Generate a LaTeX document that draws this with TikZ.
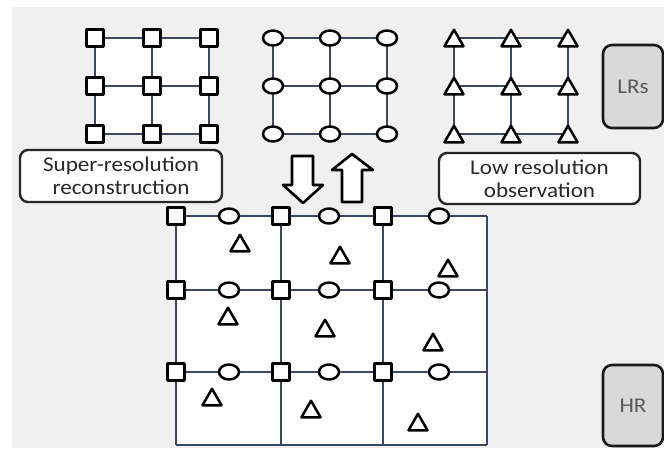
\documentclass[tikz,border=0pt]{standalone}
\usepackage{fontspec}
\setmainfont{Carlito}[FakeStretch=1.1]
\usepackage{xcolor}
\usepackage{tikz}
\usetikzlibrary{shapes.geometric}
\definecolor{cBack}{RGB}{240,240,240}
\definecolor{cGrid}{RGB}{58,72,100}
\definecolor{cTag}{RGB}{217,217,217}
\definecolor{cText}{RGB}{40,40,40}

\begin{document}
\begin{tikzpicture}[x=1pt,y=-1pt,line join=round,font=\fontsize{21}{23}\selectfont,
  gline/.style={cGrid,line width=2.4pt},
  sq/.style={draw=black,line width=2.6pt,fill=white,minimum size=17pt,inner sep=0pt},
  ci/.style={ellipse,draw=black,line width=2.5pt,fill=white,minimum width=20pt,minimum height=15pt,inner sep=0pt},
  tri/.style={regular polygon,regular polygon sides=3,draw=black,line width=2.5pt,fill=white,minimum size=22pt,inner sep=0pt,yshift=-2.75pt},
  capbox/.style={draw=black!85,line width=2.4pt,rounded corners=8pt,fill=white,text=cText,align=center},
  tagbox/.style={draw=black!90,line width=2.6pt,rounded corners=9pt,fill=cTag,text=black!65,minimum width=60pt},
  blockarrow/.style={draw=black,line width=2.6pt,fill=white}]
\useasboundingbox (0,0) rectangle (664,448);
\fill[cBack] (12,7) rectangle (664,448);
% low resolution grids
\foreach \ox/\mk in {95/sq,273/ci,454/tri}{
  \fill[white] (\ox,38) rectangle (\ox+114,134);
  \foreach \k in {0,1,2}{
    \draw[gline] (\ox,38+48*\k) -- (\ox+114,38+48*\k);
    \draw[gline] (\ox+57*\k,38) -- (\ox+57*\k,134);
  }
  \foreach \i in {0,1,2}
    \foreach \j in {0,1,2}
      \node[\mk] (\mk\i\j) at (\ox+57*\i,38+48*\j) {};
}
\node[tagbox,minimum height=83pt] (lrs) at (633,86.5) {LRs};
\node[capbox,minimum width=202pt,minimum height=52pt] (srr) at (121,176) {Super-resolution\\reconstruction};
\node[capbox,minimum width=201pt,minimum height=51pt] (lro) at (539.5,178.5) {Low resolution\\observation};
% arrows
\draw[blockarrow] (292,156) -- (313,156) -- (313,185) -- (323,185) -- (303,203) -- (283,185) -- (292,185) -- cycle;
\draw[blockarrow] (342,202) -- (362,202) -- (362,170) -- (373,170) -- (352,154) -- (332,170) -- (342,170) -- cycle;
% high resolution grid
\fill[white] (176,216) rectangle (487,445);
\foreach \y in {216,290,372,445} \draw[gline] (176,\y) -- (487,\y);
\foreach \x in {176,281,383,487} \draw[gline] (\x,216) -- (\x,445);
\foreach \y [count=\r] in {216,290,372}{
  \foreach \x [count=\c] in {176,281,383} \node[sq] (hs\r\c) at (\x,\y) {};
  \foreach \x [count=\c] in {229,329,439} \node[ci] (hc\r\c) at (\x,\y) {};
}
\foreach \x/\y [count=\n] in {240/243,340/255,448/268,228/316,325/328,433/342,212/397,311/409,418/422}
  \node[tri] (ht\n) at (\x,\y) {};
\node[tagbox,minimum height=81pt] (hr) at (633,405.5) {HR};
\end{tikzpicture}
\end{document}
